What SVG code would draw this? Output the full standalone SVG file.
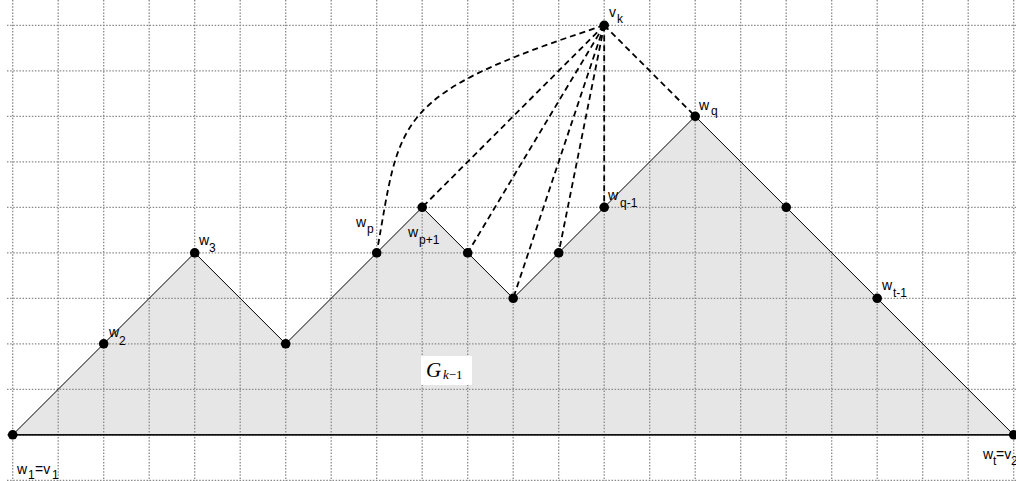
<svg xmlns="http://www.w3.org/2000/svg" width="1016" height="481" viewBox="0 0 1016 481">
<style>
.grid line{stroke:#8a8a8a;stroke-width:1.3;stroke-dasharray:1.5 1.6;fill:none}
.face{fill:#e6e6e6;stroke:none}
.outline{fill:none;stroke:#000;stroke-width:1}
.edge{fill:none;stroke:#000;stroke-width:1.8;stroke-dasharray:6 4}
.node circle{fill:#000}
.lbl{font-family:"Liberation Sans",Arial,sans-serif;font-size:14px;fill:#000}
.sub{font-family:"Liberation Sans",Arial,sans-serif;font-size:12px;fill:#000}
.math{font-family:"Liberation Serif","Times New Roman",serif;fill:#000}
</style>
<rect x="0" y="0" width="1016" height="481" fill="#fff"/>
<polygon class="face" points="12.7,434.8 103.7,343.8 194.7,252.8 285.7,343.8 376.7,252.8 422.2,207.3 467.7,252.8 513.2,298.3 558.7,252.8 604.2,207.3 695.2,116.3 786.2,207.3 877.2,298.3 1013.7,434.8"/>
<g class="grid">
<line x1="12.7" y1="0" x2="12.7" y2="481"/><line x1="58.2" y1="0" x2="58.2" y2="481"/><line x1="103.7" y1="0" x2="103.7" y2="481"/><line x1="149.2" y1="0" x2="149.2" y2="481"/><line x1="194.7" y1="0" x2="194.7" y2="481"/><line x1="240.2" y1="0" x2="240.2" y2="481"/><line x1="285.7" y1="0" x2="285.7" y2="481"/><line x1="331.2" y1="0" x2="331.2" y2="481"/><line x1="376.7" y1="0" x2="376.7" y2="481"/><line x1="422.2" y1="0" x2="422.2" y2="481"/><line x1="467.7" y1="0" x2="467.7" y2="481"/><line x1="513.2" y1="0" x2="513.2" y2="481"/><line x1="558.7" y1="0" x2="558.7" y2="481"/><line x1="604.2" y1="0" x2="604.2" y2="481"/><line x1="649.7" y1="0" x2="649.7" y2="481"/><line x1="695.2" y1="0" x2="695.2" y2="481"/><line x1="740.7" y1="0" x2="740.7" y2="481"/><line x1="786.2" y1="0" x2="786.2" y2="481"/><line x1="831.7" y1="0" x2="831.7" y2="481"/><line x1="877.2" y1="0" x2="877.2" y2="481"/><line x1="922.7" y1="0" x2="922.7" y2="481"/><line x1="968.2" y1="0" x2="968.2" y2="481"/><line x1="1013.7" y1="0" x2="1013.7" y2="481"/>
<line x1="7" y1="25.3" x2="1016" y2="25.3"/><line x1="7" y1="70.8" x2="1016" y2="70.8"/><line x1="7" y1="116.3" x2="1016" y2="116.3"/><line x1="7" y1="161.8" x2="1016" y2="161.8"/><line x1="7" y1="207.3" x2="1016" y2="207.3"/><line x1="7" y1="252.8" x2="1016" y2="252.8"/><line x1="7" y1="298.3" x2="1016" y2="298.3"/><line x1="7" y1="343.8" x2="1016" y2="343.8"/><line x1="7" y1="389.3" x2="1016" y2="389.3"/><line x1="7" y1="434.8" x2="1016" y2="434.8"/><line x1="7" y1="480.3" x2="1016" y2="480.3"/>
</g>
<g id="label-G">
<rect x="421" y="356" width="51" height="29" fill="#fff"/>
<text class="math" x="426" y="377" font-size="21" font-style="italic">G</text>
<text class="math" x="443" y="379" font-size="13"><tspan font-style="italic">k</tspan>−1</text>
</g>
<polygon class="outline" points="12.7,434.8 103.7,343.8 194.7,252.8 285.7,343.8 376.7,252.8 422.2,207.3 467.7,252.8 513.2,298.3 558.7,252.8 604.2,207.3 695.2,116.3 786.2,207.3 877.2,298.3 1013.7,434.8"/>
<g id="connectors">
<path class="edge" d="M604.2,25.3 C390.5,95 401,118 376.7,252.8"/>
<line class="edge" x1="604.2" y1="25.3" x2="422.2" y2="207.3"/>
<line class="edge" x1="604.2" y1="25.3" x2="467.7" y2="252.8"/>
<line class="edge" x1="604.2" y1="25.3" x2="513.2" y2="298.3"/>
<line class="edge" x1="604.2" y1="25.3" x2="558.7" y2="252.8"/>
<line class="edge" x1="604.2" y1="25.3" x2="604.2" y2="207.3"/>
<line class="edge" x1="604.2" y1="25.3" x2="695.2" y2="116.3"/>
</g>
<g id="n-w1" class="node"><circle cx="12.7" cy="434.8" r="4.8"/><text class="lbl" x="17" y="474">w</text><text class="sub" x="28" y="479">1</text><text class="lbl" x="35" y="474">=v</text><text class="sub" x="52" y="479">1</text></g>
<g id="n-w2" class="node"><circle cx="103.7" cy="343.8" r="4.8"/><text class="lbl" x="109" y="337">w</text><text class="sub" x="119" y="345">2</text></g>
<g id="n-w3" class="node"><circle cx="194.7" cy="252.8" r="4.8"/><text class="lbl" x="199" y="245">w</text><text class="sub" x="209" y="252">3</text></g>
<g id="n-a" class="node"><circle cx="285.7" cy="343.8" r="4.8"/></g>
<g id="n-wp" class="node"><circle cx="376.7" cy="252.8" r="4.8"/><text class="lbl" x="356" y="227">w</text><text class="sub" x="367" y="233">p</text></g>
<g id="n-wp1" class="node"><circle cx="422.2" cy="207.3" r="4.8"/><text class="lbl" x="408" y="237">w</text><text class="sub" x="419" y="244">p+1</text></g>
<g id="n-b" class="node"><circle cx="467.7" cy="252.8" r="4.8"/></g>
<g id="n-c" class="node"><circle cx="513.2" cy="298.3" r="4.8"/></g>
<g id="n-d" class="node"><circle cx="558.7" cy="252.8" r="4.8"/></g>
<g id="n-wq1" class="node"><circle cx="604.2" cy="207.3" r="4.8"/><text class="lbl" x="608" y="200">w</text><text class="sub" x="620" y="207">q-1</text></g>
<g id="n-wq" class="node"><circle cx="695.2" cy="116.3" r="4.8"/><text class="lbl" x="699" y="110">w</text><text class="sub" x="711" y="115">q</text></g>
<g id="n-e" class="node"><circle cx="786.2" cy="207.3" r="4.8"/></g>
<g id="n-wt1" class="node"><circle cx="877.2" cy="298.3" r="4.8"/><text class="lbl" x="882" y="290">w</text><text class="sub" x="893" y="297">t-1</text></g>
<g id="n-wt" class="node"><circle cx="1013.7" cy="434.8" r="4.8"/><text class="lbl" x="983" y="459">w</text><text class="sub" x="993" y="465">t</text><text class="lbl" x="996" y="459">=v</text><text class="sub" x="1011" y="465">2</text></g>
<g id="n-vk" class="node"><circle cx="604.2" cy="25.3" r="4.8"/><text class="lbl" x="609" y="17">v</text><text class="sub" x="617" y="23">k</text></g>
<line x1="12.7" y1="434.8" x2="1013.7" y2="434.8" stroke="#000" stroke-width="1.2"/>
</svg>
